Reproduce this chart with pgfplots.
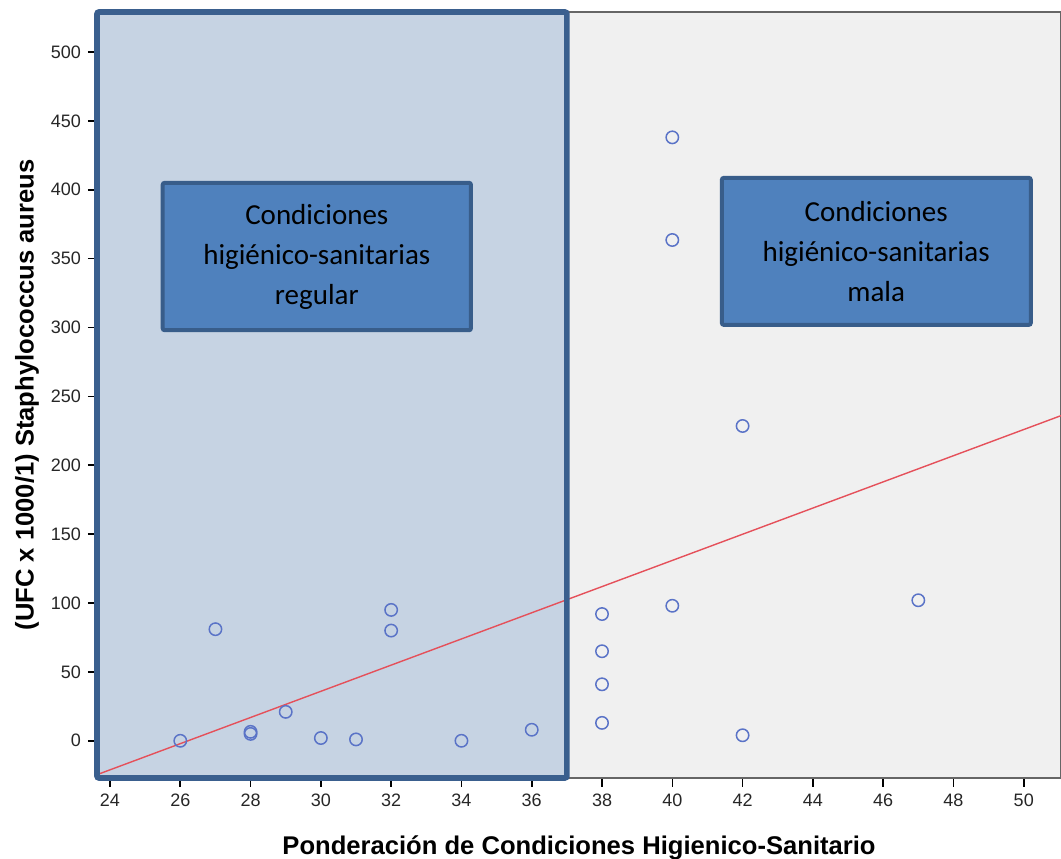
\documentclass[border=0pt]{standalone}
\usepackage{pgfplots}
\pgfplotsset{compat=1.18}
\usepackage{fontspec}
\setmainfont{Liberation Sans}
\newfontfamily\calibri{Carlito}
\definecolor{leftfill}{HTML}{C6D3E3}
\definecolor{bggray}{HTML}{F0F0F0}
\definecolor{borderblue}{HTML}{3A5F8E}
\definecolor{boxfill}{HTML}{4F81BD}
\definecolor{boxborder}{HTML}{385D8A}
\definecolor{markblue}{HTML}{5A73C7}
\definecolor{regred}{HTML}{E5505A}
\begin{document}
\begin{tikzpicture}
\begin{axis}[
  scale only axis, width=482pt, height=383pt,
  xmin=23.63, xmax=51.06, ymin=-27, ymax=529,
  xtick={24,26,...,50}, ytick={0,50,...,500},
  tick align=outside, tick pos=left, major tick length=4.5pt,
  tick style={black, line width=0.8pt},
  ticklabel style={font=\fontsize{9}{10}\selectfont, text=black!85},
  /pgf/number format/assume math mode=true,
  xlabel={Ponderación de Condiciones Higienico-Sanitario},
  ylabel={(UFC x 1000/1) Staphylococcus aureus},
  label style={font=\bfseries\fontsize{12.8}{15}\selectfont},
  xlabel style={at={(axis description cs:0.5,0)}, anchor=base, yshift=-38.5pt},
  ylabel style={at={(axis description cs:0,0.5)}, anchor=center, yshift=35pt},
  axis line style={draw=gray!80!black, line width=0.8pt},
  axis background/.style={fill=bggray},
  clip=false,
]
\fill[leftfill] (axis cs:23.63,-27) rectangle (axis cs:37,529);
\addplot[regred, line width=0.7pt, no marks] coordinates {(23.63,-24.6) (51.06,236)};
\draw[borderblue, line width=2.8pt, rounded corners=1pt] (axis cs:23.63,-27) rectangle (axis cs:37,529);
\addplot[only marks, mark=o, mark size=3.1pt, mark options={draw=markblue, line width=0.75pt}] coordinates {
(26,0) (27,81) (28,5) (28,6.5) (29,21) (30,2) (31,1) (32,95) (32,80) (34,0) (36,8)
(38,92) (38,65) (38,41) (38,13) (40,98) (40,438) (40,363.5) (42,4) (42,228.5) (47,102)
};
\draw[boxborder, fill=boxfill, line width=2pt, rounded corners=1pt] (axis cs:25.5,405) rectangle (axis cs:34.27,298);
\draw[boxborder, fill=boxfill, line width=2pt, rounded corners=1pt] (axis cs:41.41,408.6) rectangle (axis cs:50.2,301.9);
\node[align=center, font=\calibri\fontsize{14.5}{20}\selectfont] at (axis cs:29.885,351.5) {Condiciones\\higiénico-sanitarias\\regular};
\node[align=center, font=\calibri\fontsize{14.5}{20}\selectfont] at (axis cs:45.8,355.2) {Condiciones\\higiénico-sanitarias\\mala};
\coordinate (sw) at (rel axis cs:0,0);
\coordinate (ne) at (rel axis cs:1,1);
\end{axis}
\pgfresetboundingbox
\path (sw) ++(-48.5pt,-40.5pt) coordinate (bl);
\path (ne) ++(0,6pt) coordinate (tr);
\path (bl) rectangle (tr);
\end{tikzpicture}
\end{document}
